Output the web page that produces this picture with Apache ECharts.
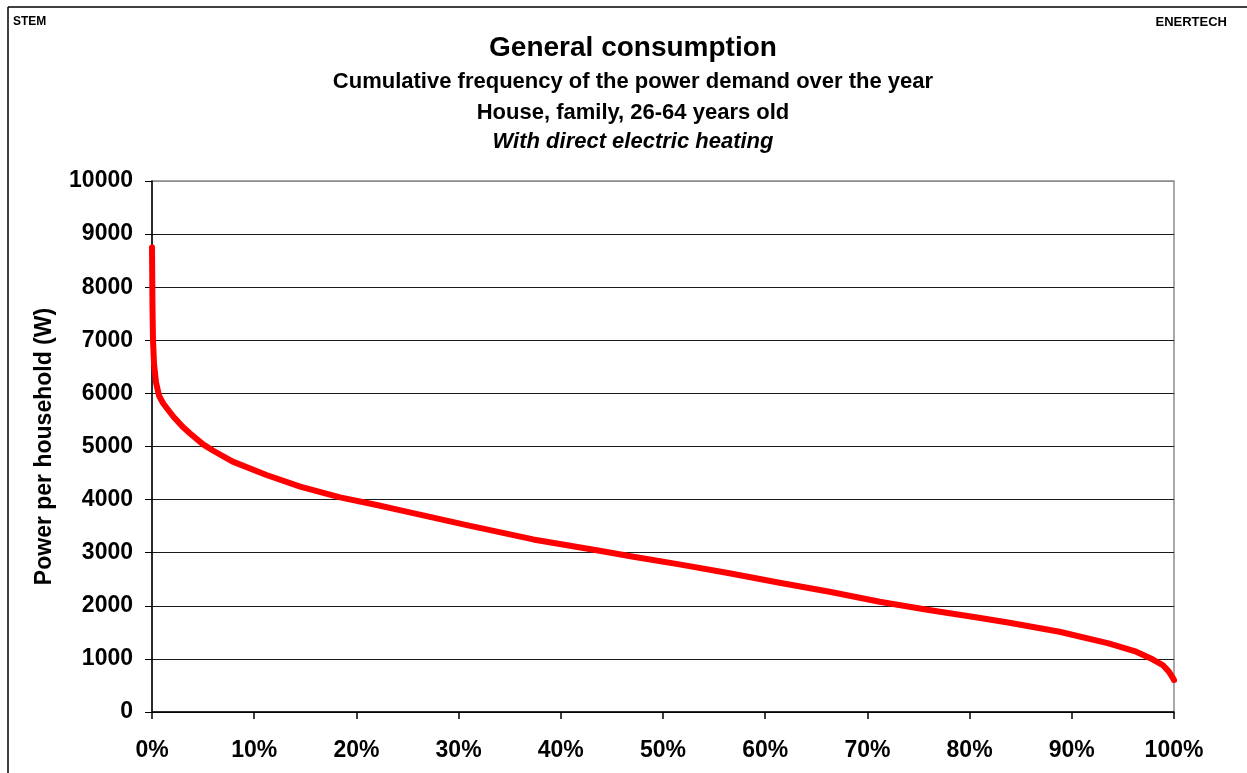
<!DOCTYPE html>
<html>
<head>
<meta charset="utf-8">
<script src="https://cdn.jsdelivr.net/npm/echarts@6/dist/echarts.min.js"></script>
<style>
  html, body { margin: 0; padding: 0; background: #fff; }
  #chart { width: 1247px; height: 773px; }
</style>
</head>
<body>
<div id="chart"></div>
<script>
// données (fréquence cumulée en %, puissance en W)
var freqPct = [0, 0.05, 0.1, 0.2, 0.4, 0.7, 1.1, 2.1, 3.0, 3.7, 5.0, 6.0, 7.9, 11.2, 14.5, 18.4, 22.0, 25.0,
  30.8, 37.3, 43.8, 47.1, 51.6, 56.5, 61.4, 66.3, 71.2, 76.0, 80.9, 83.9, 88.8, 93.6, 96.3, 97.9, 98.9, 99.5, 99.9, 100];
var powerW = [8750, 7600, 7000, 6550, 6200, 5950, 5810, 5560, 5370, 5250, 5040, 4920, 4715, 4463, 4243, 4043, 3898, 3770,
  3520, 3250, 3038, 2925, 2780, 2612, 2435, 2266, 2077, 1921, 1776, 1680, 1512, 1293, 1136, 992, 885, 760, 640, 600];

var titleLines = [
  'General consumption',
  'Cumulative frequency of the power demand over the year',
  'House, family, 26-64 years old',
  'With direct electric heating'
];

var fontFamily = 'Liberation Sans, Arial, sans-serif';

var seriesData = freqPct.map(function (p, i) { return [p, powerW[i]]; });

// couleurs des lignes de grille (la dernière = bord du cadre, gris)
var gridColors = [];
for (var i = 0; i < 11; i++) {
  gridColors.push(i === 10 ? '#8c8c8c' : '#1a1a1a');
}

var chart = echarts.init(document.getElementById('chart'), null, {renderer: 'canvas'});
var option = {
  backgroundColor: '#fff',
  animation: false,
  title: [
    {text: titleLines[0], left: 628, top: 29, textAlign: 'center',
      textStyle: {fontFamily: fontFamily, fontSize: 28, fontWeight: 'bold', color: '#000'}},
    {text: titleLines[1], left: 628, top: 66, textAlign: 'center',
      textStyle: {fontFamily: fontFamily, fontSize: 22, fontWeight: 'bold', color: '#000'}},
    {text: titleLines[2], left: 628, top: 97, textAlign: 'center',
      textStyle: {fontFamily: fontFamily, fontSize: 22, fontWeight: 'bold', color: '#000'}},
    {text: titleLines[3], left: 628, top: 126, textAlign: 'center',
      textStyle: {fontFamily: fontFamily, fontSize: 22, fontWeight: 'bold', fontStyle: 'italic', color: '#000'}},
    {text: 'STEM', left: 8, top: 11,
      textStyle: {fontFamily: fontFamily, fontSize: 12, fontWeight: 'bold', color: '#000'}},
    {text: 'ENERTECH', right: 15, top: 11,
      textStyle: {fontFamily: fontFamily, fontSize: 13, fontWeight: 'bold', color: '#000'}}
  ],
  graphic: [
    {type: 'line', shape: {x1: 8, y1: 7, x2: 1247, y2: 7}, style: {stroke: '#000', lineWidth: 1.5}},
    {type: 'line', shape: {x1: 8, y1: 7, x2: 8, y2: 773}, style: {stroke: '#000', lineWidth: 1.5}}
  ],
  grid: {
    left: 152, right: 73, top: 181, bottom: 61,
    show: true, borderColor: '#8c8c8c', borderWidth: 1.5, backgroundColor: '#fff'
  },
  xAxis: {
    type: 'value',
    min: 0, max: 100, interval: 10,
    axisLine: {show: true, lineStyle: {color: '#000', width: 1.5}},
    axisTick: {show: true, length: 7, lineStyle: {color: '#000', width: 1.5}},
    splitLine: {show: false},
    axisLabel: {
      margin: 27,
      formatter: function (v) { return v + '%'; },
      fontFamily: fontFamily, fontSize: 23, fontWeight: 'bold', color: '#000'
    }
  },
  yAxis: {
    type: 'value',
    min: 0, max: 10000, interval: 1000,
    name: 'Power per household (W)',
    nameLocation: 'middle',
    nameGap: 96,
    nameRotate: 90,
    nameTextStyle: {fontFamily: fontFamily, fontSize: 23, fontWeight: 'bold', color: '#000'},
    axisLine: {show: true, lineStyle: {color: '#000', width: 1.5}},
    axisTick: {show: true, length: 7, lineStyle: {color: '#000', width: 1}},
    splitLine: {show: true, lineStyle: {color: gridColors, width: 1.2}},
    axisLabel: {
      margin: 19,
      formatter: function (v) { return String(v); },
      fontFamily: fontFamily, fontSize: 23, fontWeight: 'bold', color: '#000'
    }
  },
  series: [
    {
      name: 'Power',
      type: 'line',
      data: seriesData,
      showSymbol: false,
      smooth: false,
      lineStyle: {color: '#ff0000', width: 6, join: 'round', cap: 'round'},
      itemStyle: {color: '#ff0000'}
    }
  ]
};

option && chart.setOption(option);
</script>
</body>
</html>
